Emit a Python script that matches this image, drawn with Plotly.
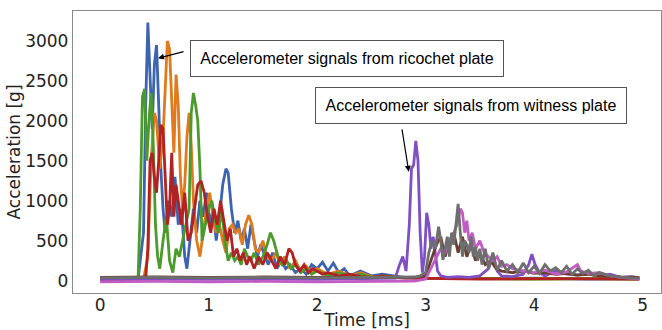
import plotly.graph_objects as go

# ---- data (time in ms, acceleration in g) ----
blue_t = [0, 0.2, 0.35, 0.40, 0.42, 0.44, 0.46, 0.48, 0.50, 0.52,
          0.54, 0.56, 0.58, 0.60, 0.63, 0.66, 0.69, 0.72, 0.75, 0.78,
          0.80, 0.83, 0.86, 0.89, 0.92, 0.95, 0.98, 1.01, 1.04, 1.07,
          1.10, 1.13, 1.16, 1.18, 1.21, 1.24, 1.27, 1.30, 1.33, 1.36,
          1.39, 1.42, 1.45, 1.48, 1.51, 1.55, 1.59, 1.63, 1.67, 1.71,
          1.75, 1.80, 1.85, 1.90, 1.95, 2.00, 2.05, 2.10, 2.15, 2.20,
          2.25, 2.30, 2.40, 2.50, 2.60, 2.80, 3.0, 3.5, 4.0, 4.5,
          4.97]
blue_v = [20, 25, 20, 600, 2200, 3230, 2500, 1900, 2700, 2950,
          2200, 1400, 900, 600, 1000, 800, 1300, 700, 900, 300,
          150, 500, 900, 600, 1000, 800, 1100, 700, 900, 500,
          800, 1200, 1400, 1350, 900, 600, 750, 500, 650, 400,
          700, 500, 300, 450, 350, 200, 350, 150, 250, 150,
          200, 100, 150, 80, 200, 150, 230, 120, 220, 100,
          150, 60, 120, 60, 80, 40, 30, 25, 30, 20,
          25]

orange_t = [0, 0.2, 0.40, 0.44, 0.47, 0.50, 0.52, 0.55, 0.58, 0.60,
            0.62, 0.64, 0.66, 0.68, 0.70, 0.72, 0.74, 0.76, 0.78, 0.80,
            0.82, 0.84, 0.86, 0.89, 0.92, 0.95, 0.98, 1.01, 1.04, 1.07,
            1.10, 1.13, 1.16, 1.19, 1.22, 1.25, 1.28, 1.31, 1.34, 1.37,
            1.40, 1.43, 1.46, 1.50, 1.54, 1.58, 1.62, 1.66, 1.70, 1.75,
            1.80, 1.85, 1.90, 1.95, 2.00, 2.10, 2.20, 2.30, 2.40, 2.50,
            2.70, 3.0, 3.5, 4.0, 4.5, 4.97]
orange_v = [20, 15, 20, 300, 1500, 2100, 2000, 1400, 1800, 2500,
            3000, 2900, 2200, 1600, 2580, 2200, 1300, 900, 1200, 1800,
            2100, 1700, 1000, 500, 300, 600, 900, 1100, 800, 600,
            700, 500, 350, 650, 700, 600, 650, 450, 700, 820,
            700, 400, 350, 500, 300, 250, 350, 200, 300, 150,
            250, 120, 180, 100, 150, 80, 120, 60, 100, 50,
            40, 30, 25, 20, 25, 20]

green_t = [0, 0.2, 0.35, 0.37, 0.39, 0.41, 0.43, 0.45, 0.47, 0.49,
           0.51, 0.53, 0.55, 0.58, 0.61, 0.64, 0.67, 0.70, 0.73, 0.76,
           0.79, 0.82, 0.84, 0.86, 0.88, 0.90, 0.92, 0.94, 0.97, 1.00,
           1.03, 1.06, 1.09, 1.12, 1.15, 1.18, 1.21, 1.24, 1.27, 1.30,
           1.33, 1.36, 1.39, 1.42, 1.46, 1.50, 1.54, 1.57, 1.60, 1.64,
           1.68, 1.72, 1.76, 1.80, 1.85, 1.90, 1.95, 2.00, 2.10, 2.20,
           2.30, 2.40, 2.5, 2.6, 2.8, 3.0, 3.5, 4.0, 4.5, 4.97]
green_v = [20, 25, 30, 900, 2300, 2400, 1500, 2000, 2350, 1700,
           700, 300, 150, 500, 800, 250, 100, 400, 300, 500,
           700, 900, 2100, 2350, 2200, 2000, 1400, 500, 700, 900,
           1000, 750, 600, 900, 500, 250, 350, 250, 300, 200,
           400, 300, 250, 350, 200, 300, 450, 600, 500, 300,
           200, 250, 150, 200, 100, 150, 80, 120, 60, 100,
           50, 80, 40, 60, 40, 30, 25, 20, 25, 20]

red_t = [0, 0.2, 0.42, 0.44, 0.46, 0.48, 0.50, 0.52, 0.54, 0.56,
         0.58, 0.60, 0.62, 0.64, 0.66, 0.68, 0.70, 0.72, 0.75, 0.78,
         0.81, 0.84, 0.87, 0.90, 0.93, 0.96, 0.99, 1.02, 1.05, 1.08,
         1.11, 1.14, 1.17, 1.20, 1.23, 1.26, 1.29, 1.32, 1.35, 1.38,
         1.42, 1.46, 1.50, 1.54, 1.58, 1.62, 1.66, 1.70, 1.74, 1.77,
         1.80, 1.84, 1.88, 1.92, 1.96, 2.00, 2.05, 2.10, 2.20, 2.30,
         2.40, 2.5, 2.6, 2.8, 3.0, 3.5, 4.0, 4.5, 4.97]
red_v = [20, 20, 30, 400, 1500, 1600, 1300, 1100, 1500, 1950,
         1900, 1200, 700, 900, 1600, 800, 1200, 1000, 700, 1100,
         500, 600, 900, 1200, 1250, 1100, 800, 600, 900, 700,
         1000, 750, 500, 650, 300, 400, 250, 350, 200, 300,
         150, 300, 200, 350, 250, 150, 300, 200, 400, 350,
         200, 120, 200, 100, 150, 120, 80, 100, 60, 80,
         50, 40, 60, 30, 25, 20, 25, 20, 20]

purple_t = [0, 0.5, 1.0, 1.5, 2.0, 2.5, 2.72, 2.76, 2.79, 2.82,
            2.85, 2.87, 2.89, 2.91, 2.93, 2.95, 2.97, 2.99, 3.01, 3.03,
            3.05, 3.07, 3.09, 3.11, 3.14, 3.2, 3.3, 3.4, 3.5, 3.58,
            3.62, 3.66, 3.7, 3.8, 3.9, 3.95, 3.98, 4.01, 4.05, 4.1,
            4.2, 4.3, 4.4, 4.5, 4.6, 4.7, 4.8, 4.9, 4.97]
purple_v = [15, 20, 15, 20, 15, 20, 30, 200, 300, 120,
            700, 1400, 1450, 1750, 1500, 600, 100, 300, 850, 700,
            400, 550, 350, 120, 60, 40, 50, 40, 60, 150,
            300, 120, 60, 50, 80, 200, 330, 200, 100, 60,
            120, 80, 70, 100, 60, 80, 40, 50, 30]

brown_t = [0, 0.5, 1.0, 1.5, 2.0, 2.5, 2.9, 3.0, 3.05, 3.10,
           3.14, 3.18, 3.22, 3.26, 3.30, 3.34, 3.38, 3.42, 3.46, 3.50,
           3.55, 3.60, 3.65, 3.70, 3.80, 3.90, 4.0, 4.1, 4.2, 4.3,
           4.4, 4.5, 4.6, 4.7, 4.8, 4.97]
brown_v = [40, 45, 40, 45, 40, 45, 40, 60, 250, 450,
           550, 300, 500, 600, 350, 550, 300, 450, 250, 350,
           200, 250, 150, 120, 100, 120, 90, 100, 80, 90,
           70, 80, 60, 50, 45, 40]

pink_t = [0, 0.5, 1.0, 1.5, 2.0, 2.5, 2.9, 3.0, 3.05, 3.10,
          3.14, 3.18, 3.22, 3.26, 3.29, 3.32, 3.34, 3.36, 3.38, 3.40,
          3.43, 3.46, 3.50, 3.54, 3.58, 3.62, 3.66, 3.70, 3.75, 3.80,
          3.9, 4.0, 4.1, 4.2, 4.3, 4.37, 4.40, 4.43, 4.5, 4.6,
          4.7, 4.8, 4.97]
pink_v = [-15, -10, -15, -10, -15, -10, -5, 20, 150, 300,
          400, 350, 500, 600, 700, 900, 850, 600, 750, 500,
          600, 400, 500, 350, 300, 250, 300, 180, 200, 150,
          120, 100, 130, 80, 110, 180, 200, 120, 90, 100,
          60, 40, 20]

gray_t = [0, 0.5, 1.0, 1.5, 2.0, 2.5, 2.8, 2.9, 2.95, 3.0,
          3.03, 3.06, 3.09, 3.12, 3.14, 3.16, 3.18, 3.20, 3.22, 3.24,
          3.26, 3.28, 3.30, 3.32, 3.34, 3.36, 3.38, 3.40, 3.42, 3.44,
          3.46, 3.48, 3.50, 3.52, 3.55, 3.58, 3.62, 3.66, 3.70, 3.75,
          3.80, 3.85, 3.90, 3.95, 4.0, 4.05, 4.1, 4.15, 4.2, 4.25,
          4.3, 4.35, 4.4, 4.45, 4.5, 4.55, 4.6, 4.7, 4.8, 4.9,
          4.97]
gray_v = [35, 40, 35, 40, 35, 40, 40, 45, 60, 100,
          350, 500, 400, 675, 500, 260, 400, 550, 300, 600,
          450, 700, 960, 600, 300, 500, 450, 350, 550, 300,
          420, 250, 400, 200, 400, 150, 350, 130, 250, 120,
          200, 100, 220, 100, 180, 90, 200, 120, 160, 100,
          180, 80, 150, 90, 130, 60, 100, 60, 40, 30,
          30]

x_ticks = [0, 1, 2, 3, 4, 5]
y_ticks = [0, 500, 1000, 1500, 2000, 2500, 3000]

series = [
    (blue_t, blue_v, "#3d64b0"),
    (orange_t, orange_v, "#e07a1c"),
    (green_t, green_v, "#4b9a2c"),
    (red_t, red_v, "#b22222"),
    (purple_t, purple_v, "#7f4fc4"),
    (brown_t, brown_v, "#6b3e2e"),
    (pink_t, pink_v, "#c25cc4"),
    (gray_t, gray_v, "#6e6e6e"),
]

fig = go.Figure()
for t, v, c in series:
    fig.add_trace(go.Scatter(x=t, y=v, mode="lines",
                             line=dict(color=c, width=2.8),
                             showlegend=False, hoverinfo="skip"))

tick_font = dict(family="DejaVu Sans", size=17, color="#222222")
fig.update_layout(
    width=662, height=330,
    margin=dict(l=73, r=1, t=11, b=37, autoexpand=False),
    paper_bgcolor="white", plot_bgcolor="white",
    xaxis=dict(range=[-0.25, 5.17], tickvals=x_ticks, showgrid=False,
               zeroline=False, showline=True, mirror=True, automargin=False,
               linecolor="#888888", linewidth=1.3, ticks="",
               tickfont=tick_font, ticklabelstandoff=-4,
               title=dict(text="Time [ms]", font=tick_font, standoff=0)),
    yaxis=dict(range=[-155, 3375], tickvals=y_ticks, showgrid=False,
               zeroline=False, showline=True, mirror=True, automargin=False,
               linecolor="#888888", linewidth=1.3, ticks="",
               tickfont=tick_font,
               title=dict(text="Acceleration [g]", font=tick_font, standoff=0)),
)

box_font = dict(family="Liberation Sans", size=16, color="black")
fig.add_annotation(x=2.272, y=2780, xref="x", yref="y",
                   text="Accelerometer signals from ricochet plate",
                   showarrow=False, font=box_font, bgcolor="white",
                   bordercolor="#555555", borderwidth=1, width=308, height=31,
                   borderpad=2)
fig.add_annotation(x=3.421, y=2190, xref="x", yref="y",
                   text="Accelerometer signals from witness plate",
                   showarrow=False, font=box_font, bgcolor="white",
                   bordercolor="#555555", borderwidth=1, width=306, height=31,
                   borderpad=2)
fig.add_annotation(x=0.534, y=2784, xref="x", yref="y", text="",
                   showarrow=True, arrowhead=2, arrowsize=1, arrowwidth=1.2,
                   arrowcolor="black", ax=27, ay=-7)
fig.add_annotation(x=2.845, y=1362, xref="x", yref="y", text="",
                   showarrow=True, arrowhead=2, arrowsize=1, arrowwidth=1.2,
                   arrowcolor="black", ax=-7, ay=-44)

fig.write_html("out.html", config={"displayModeBar": False},
               post_script="document.body.style.margin='0px';"
                           "document.body.style.padding='0px';")
